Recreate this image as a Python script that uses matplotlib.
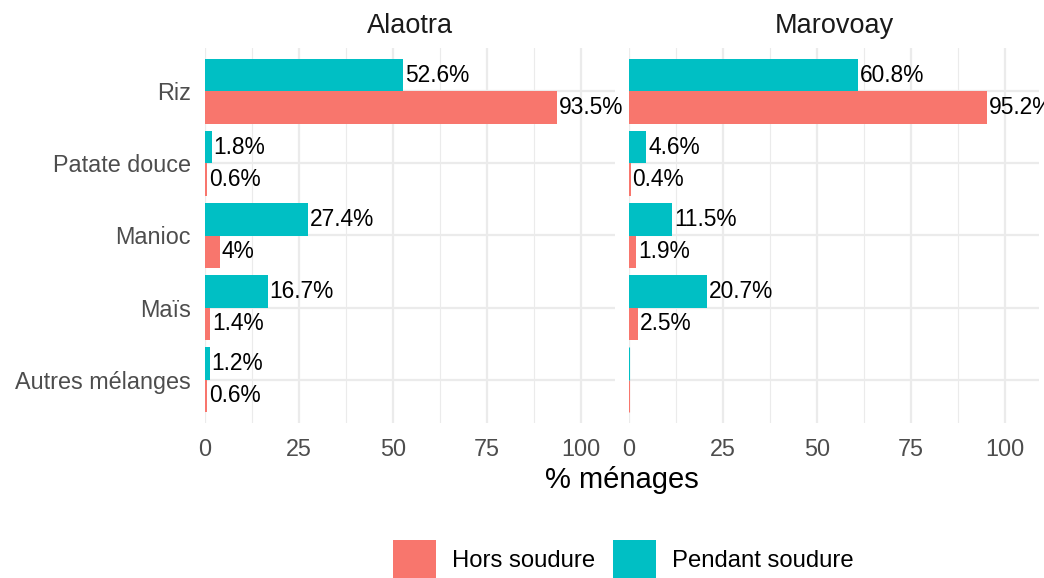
import matplotlib
matplotlib.use("Agg")
import matplotlib.pyplot as plt
from matplotlib.patches import Rectangle

plt.rcParams["font.family"] = ["Liberation Sans", "DejaVu Sans"]

# Data
regions = ["Alaotra", "Marovoay"]
categories = ["Riz", "Patate douce", "Manioc", "Maïs", "Autres mélanges"]
series = ["Hors soudure", "Pendant soudure"]
hors_soudure = {
    "Alaotra": [93.5, 0.6, 4.0, 1.4, 0.6],
    "Marovoay": [95.2, 0.4, 1.9, 2.5, 0.0],
}
pendant_soudure = {
    "Alaotra": [52.6, 1.8, 27.4, 16.7, 1.2],
    "Marovoay": [60.8, 4.6, 11.5, 20.7, 0.0],
}
xticks = [0, 25, 50, 75, 100]
colors = {"Hors soudure": "#F8766D", "Pendant soudure": "#00BFC4"}

W, H = 1044, 578
fig = plt.figure(figsize=(W / 100, H / 100), dpi=100)


def fx(px):
    return px / W


def fy(py):
    return 1 - py / H


grid_col = "#EBEBEB"
panel_left = [205, 629]
panel_w = 410
panel_top, panel_bot = 48, 423
xmax = panel_w / 3.76

n = len(categories)
ypos = [n - 1 - i for i in range(n)]
bar_h = 0.45

for k, region in enumerate(regions):
    ax = fig.add_axes([fx(panel_left[k]), fy(panel_bot), fx(panel_w),
                       (panel_bot - panel_top) / H])
    ax.set_xlim(0, xmax)
    ax.set_ylim(-0.6, n - 0.4)
    for s in ax.spines.values():
        s.set_visible(False)
    # grid
    for t in [12.5, 37.5, 62.5, 87.5]:
        ax.axvline(t, color=grid_col, lw=0.8, zorder=0)
    for t in xticks:
        ax.axvline(t, color=grid_col, lw=1.6, zorder=0)
    for y in ypos:
        ax.axhline(y, color=grid_col, lw=1.6, zorder=0)

    for name, data, off in [("Hors soudure", hors_soudure, -bar_h / 2),
                            ("Pendant soudure", pendant_soudure, bar_h / 2)]:
        vals = data[region]
        ys = [y + off for y in ypos]
        ax.barh(ys, vals, height=bar_h, color=colors[name],
                edgecolor=[colors[name] if v == 0 else "none" for v in vals],
                linewidth=0.8, zorder=2)
        for y, v in zip(ys, vals):
            if v > 0:
                lab = f"{v:g}%"
                ax.text(v + 0.5, y, lab, ha="left", va="center", fontsize=16.4,
                        color="black", clip_on=False, zorder=3)

    ax.set_xticks(xticks)
    ax.set_xticklabels([str(t) for t in xticks], fontsize=16.8, color="#4D4D4D")
    ax.tick_params(axis="x", length=0, pad=11)
    ax.set_yticks(ypos)
    if k == 0:
        ax.set_yticklabels(categories, fontsize=16.8, color="#4D4D4D")
    else:
        ax.set_yticklabels([])
    ax.tick_params(axis="y", length=0, pad=10)
    ax.set_facecolor("white")

    fig.text(fx(panel_left[k] + panel_w / 2), fy(26), region, ha="center",
             va="center", fontsize=19.5, color="#1A1A1A")

fig.text(fx((205 + 1039) / 2), fy(480), "% ménages", ha="center", va="center",
         fontsize=21, color="black")

# legend
legend_items = [("Hors soudure", 393, 452), ("Pendant soudure", 613, 672)]
for name, kx, tx in legend_items:
    fig.patches.append(Rectangle((fx(kx), fy(578)), fx(43), 38 / H,
                                 transform=fig.transFigure,
                                 facecolor=colors[name], edgecolor="none"))
    fig.text(fx(tx), fy(561), name, ha="left", va="center", fontsize=17.2,
             color="black")

fig.savefig("out.png", dpi=100)
